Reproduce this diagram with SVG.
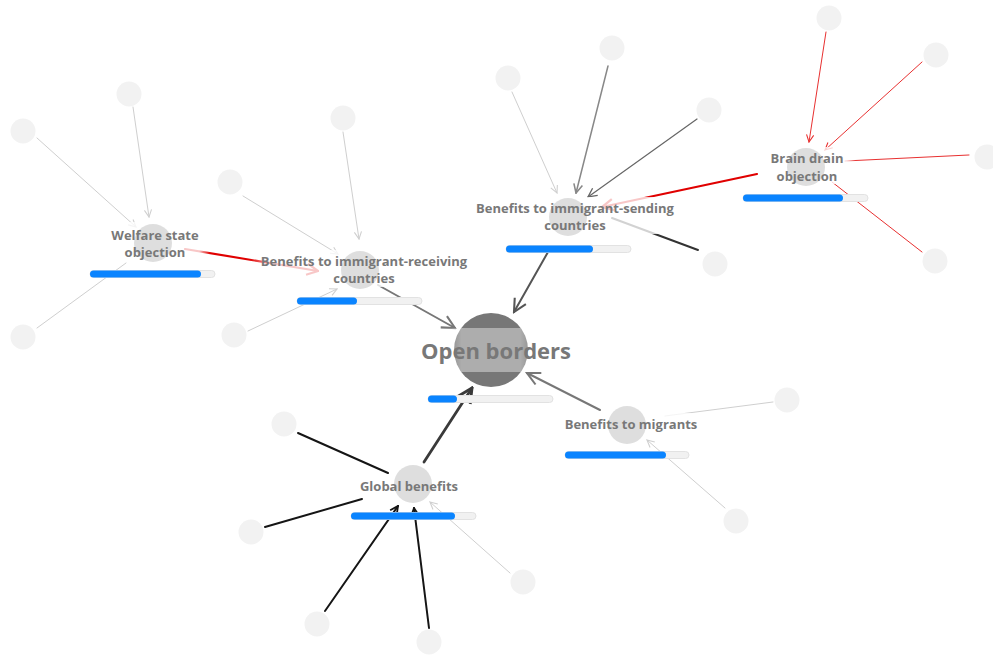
<svg xmlns="http://www.w3.org/2000/svg" width="993" height="659" viewBox="0 0 993 659">
<defs>
<style>
.leaf{fill:#f2f2f2}
.node{fill:#d8d8d8;opacity:0.85}
.lbl{font-family:"Open Sans","Liberation Sans",sans-serif;font-weight:700;font-size:13px;fill:#787878;text-anchor:middle}
.big{font-size:22px}
.bg{fill:url(#bgGrad)}
.track{fill:#f1f1f1;stroke:#e2e2e2;stroke-width:1}
.fill{fill:#0a84ff}
.e{fill:none;stroke-linecap:round}
.light{stroke:#cfcfcf;stroke-width:1}
.ml{marker-end:url(#mLight)}
.red{stroke:#e83030;stroke-width:1}
.redT{stroke:#e00000;stroke-width:2.2;marker-end:url(#mRedT)}
.blk{stroke:#151515;stroke-width:2}
</style>
<linearGradient id="bgGrad" x1="0" y1="0" x2="1" y2="0">
<stop offset="0" stop-color="#fff" stop-opacity="0"/>
<stop offset="0.1" stop-color="#fff" stop-opacity="0.78"/>
<stop offset="0.9" stop-color="#fff" stop-opacity="0.78"/>
<stop offset="1" stop-color="#fff" stop-opacity="0"/>
</linearGradient>
<linearGradient id="bgGradC" x1="0" y1="0" x2="1" y2="0">
<stop offset="0" stop-color="#fff" stop-opacity="0"/>
<stop offset="0.2" stop-color="#fff" stop-opacity="0.4"/>
<stop offset="0.8" stop-color="#fff" stop-opacity="0.4"/>
<stop offset="1" stop-color="#fff" stop-opacity="0"/>
</linearGradient>
<marker id="mLight" viewBox="0 0 10 10" refX="9" refY="5" markerWidth="9" markerHeight="9" markerUnits="userSpaceOnUse" orient="auto"><path d="M1,1 L9,5 L1,9" fill="none" stroke="#cfcfcf" stroke-width="1.2"/></marker>
<marker id="mMid" viewBox="0 0 10 10" refX="9" refY="5" markerWidth="11" markerHeight="11" markerUnits="userSpaceOnUse" orient="auto"><path d="M1,1 L9,5 L1,9" fill="none" stroke="#888" stroke-width="1.4"/></marker>
<marker id="mDark" viewBox="0 0 10 10" refX="9" refY="5" markerWidth="11" markerHeight="11" markerUnits="userSpaceOnUse" orient="auto"><path d="M1,1 L9,5 L1,9" fill="none" stroke="#666" stroke-width="1.2"/></marker>
<marker id="mBlk" viewBox="0 0 10 10" refX="9" refY="5" markerWidth="10" markerHeight="10" markerUnits="userSpaceOnUse" orient="auto"><path d="M1,1 L9,5 L1,9" fill="none" stroke="#151515" stroke-width="1.8"/></marker>
<marker id="mRed" viewBox="0 0 10 10" refX="9" refY="5" markerWidth="9" markerHeight="9" markerUnits="userSpaceOnUse" orient="auto"><path d="M1,1 L9,5 L1,9" fill="none" stroke="#e83030" stroke-width="1.2"/></marker>
<marker id="mRedT" viewBox="0 0 10 10" refX="9" refY="5" markerWidth="14" markerHeight="14" markerUnits="userSpaceOnUse" orient="auto"><path d="M1,1 L9,5 L1,9" fill="none" stroke="#e00000" stroke-width="1.6"/></marker>
<marker id="mGrey" viewBox="0 0 10 10" refX="9" refY="5" markerWidth="16" markerHeight="16" markerUnits="userSpaceOnUse" orient="auto"><path d="M1,1 L9,5 L1,9" fill="none" stroke="#777" stroke-width="1.3"/></marker>
<marker id="mDarkT" viewBox="0 0 10 10" refX="9" refY="5" markerWidth="16" markerHeight="16" markerUnits="userSpaceOnUse" orient="auto"><path d="M1,1 L9,5 L1,9" fill="none" stroke="#555" stroke-width="1.3"/></marker>
<marker id="mGlob" viewBox="0 0 10 10" refX="9" refY="5" markerWidth="18" markerHeight="18" markerUnits="userSpaceOnUse" orient="auto"><path d="M1,1 L9,5 L1,9" fill="none" stroke="#3a3a3a" stroke-width="1.6"/></marker>
</defs>
<rect width="993" height="659" fill="#fff"/>
<g id="connectors">
<line class="e light ml" x1="133" y1="107" x2="149" y2="217"/>
<line class="e light ml" x1="37" y1="138" x2="136" y2="227"/>
<line class="e light" x1="37" y1="328" x2="126" y2="263"/>
<line class="e light ml" x1="343" y1="132" x2="359" y2="239"/>
<line class="e light ml" x1="243" y1="196" x2="338" y2="254"/>
<line class="e light ml" x1="248" y1="331" x2="337" y2="289"/>
<line class="e light ml" x1="512" y1="92" x2="557" y2="193"/>
<line class="e" x1="608" y1="66" x2="576" y2="193" stroke="#888" stroke-width="1.5" marker-end="url(#mMid)"/>
<line class="e" x1="697" y1="119" x2="588" y2="197" stroke="#666" stroke-width="1.2" marker-end="url(#mDark)"/>
<line class="e" x1="698" y1="250" x2="612" y2="218" stroke="#333" stroke-width="2"/>
<line class="e" x1="548" y1="252" x2="514" y2="312" stroke="#555" stroke-width="2" marker-end="url(#mDarkT)"/>
<line class="e redT" x1="757" y1="174" x2="602" y2="207"/>
<line class="e red" x1="826" y1="32" x2="809" y2="142" marker-end="url(#mRed)"/>
<line class="e red" x1="922" y1="62" x2="825" y2="150" marker-end="url(#mRed)"/>
<line class="e red" x1="969" y1="155" x2="845" y2="161"/>
<line class="e red" x1="922" y1="252" x2="832" y2="182"/>
<line class="e redT" x1="185" y1="249" x2="318" y2="271"/>
<line class="e" x1="378" y1="285" x2="455" y2="328" stroke="#777" stroke-width="2" marker-end="url(#mGrey)"/>
<line class="e" x1="424" y1="462" x2="472" y2="388" stroke="#3a3a3a" stroke-width="2.8" marker-end="url(#mGlob)"/>
<line class="e blk" x1="298" y1="433" x2="388" y2="473" stroke-width="1.5"/>
<line class="e blk" x1="265" y1="527" x2="362" y2="499"/>
<line class="e blk" x1="325" y1="611" x2="398" y2="506" marker-end="url(#mBlk)"/>
<line class="e blk" x1="429" y1="628" x2="414" y2="508" marker-end="url(#mBlk)"/>
<line class="e light ml" x1="510" y1="573" x2="430" y2="502"/>
<line class="e" x1="600" y1="410" x2="527" y2="373" stroke="#777" stroke-width="2" marker-end="url(#mGrey)"/>
<line class="e light" x1="773" y1="402" x2="665" y2="416"/>
<line class="e light ml" x1="725" y1="508" x2="647" y2="440"/>
</g>
<g id="leaf-w1"><circle class="leaf" cx="129" cy="94" r="12.5"/></g>
<g id="leaf-w2"><circle class="leaf" cx="23" cy="131" r="12.5"/></g>
<g id="leaf-w3"><circle class="leaf" cx="23" cy="337" r="12.5"/></g>
<g id="leaf-r1"><circle class="leaf" cx="343" cy="118" r="12.5"/></g>
<g id="leaf-r2"><circle class="leaf" cx="230" cy="182" r="12.5"/></g>
<g id="leaf-r3"><circle class="leaf" cx="234" cy="335" r="12.5"/></g>
<g id="leaf-s1"><circle class="leaf" cx="508" cy="78" r="12.5"/></g>
<g id="leaf-s2"><circle class="leaf" cx="612" cy="48" r="12.5"/></g>
<g id="leaf-s3"><circle class="leaf" cx="709" cy="110" r="12.5"/></g>
<g id="leaf-s4"><circle class="leaf" cx="715" cy="264" r="12.5"/></g>
<g id="leaf-b1"><circle class="leaf" cx="829" cy="18" r="12.5"/></g>
<g id="leaf-b2"><circle class="leaf" cx="936" cy="55" r="12.5"/></g>
<g id="leaf-b3"><circle class="leaf" cx="987" cy="157" r="12.5"/></g>
<g id="leaf-b4"><circle class="leaf" cx="935" cy="261" r="12.5"/></g>
<g id="leaf-g1"><circle class="leaf" cx="284" cy="424" r="12.5"/></g>
<g id="leaf-g2"><circle class="leaf" cx="251" cy="532" r="12.5"/></g>
<g id="leaf-g3"><circle class="leaf" cx="317" cy="624" r="12.5"/></g>
<g id="leaf-g4"><circle class="leaf" cx="429" cy="642" r="12.5"/></g>
<g id="leaf-g5"><circle class="leaf" cx="523" cy="582" r="12.5"/></g>
<g id="leaf-m1"><circle class="leaf" cx="787" cy="400" r="12.5"/></g>
<g id="leaf-m2"><circle class="leaf" cx="736" cy="521" r="12.5"/></g>
<g id="node-welfare">
<rect class="bg" x="102" y="222" width="108" height="37"/>
<circle class="node" cx="153" cy="243" r="19"/>
<text class="lbl" x="155" y="240">Welfare state</text>
<text class="lbl" x="155" y="257">objection</text>
<rect class="track" x="90" y="270.5" width="125" height="7" rx="3.5"/>
<rect class="fill" x="90" y="270.5" width="111" height="7" rx="3.5"/>
</g>
<g id="node-receiving">
<rect class="bg" x="250" y="250" width="228" height="37"/>
<circle class="node" cx="360" cy="270" r="19"/>
<text class="lbl" x="364" y="266">Benefits to immigrant-receiving</text>
<text class="lbl" x="364" y="283">countries</text>
<rect class="track" x="297" y="297.5" width="125" height="7" rx="3.5"/>
<rect class="fill" x="297" y="297.5" width="60" height="7" rx="3.5"/>
</g>
<g id="node-sending">
<rect class="bg" x="465" y="197" width="220" height="37"/>
<circle class="node" cx="568" cy="217" r="19"/>
<text class="lbl" x="575" y="213">Benefits to immigrant-sending</text>
<text class="lbl" x="575" y="230">countries</text>
<rect class="track" x="506" y="245.5" width="125" height="7" rx="3.5"/>
<rect class="fill" x="506" y="245.5" width="87" height="7" rx="3.5"/>
</g>
<g id="node-braindrain">
<rect class="bg" x="758" y="147" width="98" height="37"/>
<circle class="node" cx="806" cy="167" r="19"/>
<text class="lbl" x="807" y="163">Brain drain</text>
<text class="lbl" x="807" y="181">objection</text>
<rect class="track" x="743" y="194.5" width="125" height="7" rx="3.5"/>
<rect class="fill" x="743" y="194.5" width="100" height="7" rx="3.5"/>
</g>
<g id="node-global">
<rect class="bg" x="349" y="475" width="120" height="22"/>
<circle class="node" cx="413" cy="484" r="19"/>
<text class="lbl" x="409" y="491">Global benefits</text>
<rect class="track" x="351" y="512.5" width="125" height="7" rx="3.5"/>
<rect class="fill" x="351" y="512.5" width="104" height="7" rx="3.5"/>
</g>
<g id="node-migrants">
<rect class="bg" x="554" y="413" width="154" height="22"/>
<circle class="node" cx="627" cy="425" r="19"/>
<text class="lbl" x="631" y="429">Benefits to migrants</text>
<rect class="track" x="565" y="451.5" width="124" height="7" rx="3.5"/>
<rect class="fill" x="565" y="451.5" width="101" height="7" rx="3.5"/>
</g>
<g id="node-center">
<circle cx="491" cy="350" r="37" fill="#777"/>
<rect x="442" y="328" width="98" height="44" fill="url(#bgGradC)"/>
<text class="lbl big" x="496" y="359">Open borders</text>
<rect class="track" x="428" y="395.5" width="125" height="7" rx="3.5"/>
<rect class="fill" x="428" y="395.5" width="29" height="7" rx="3.5"/>
</g>
</svg>
